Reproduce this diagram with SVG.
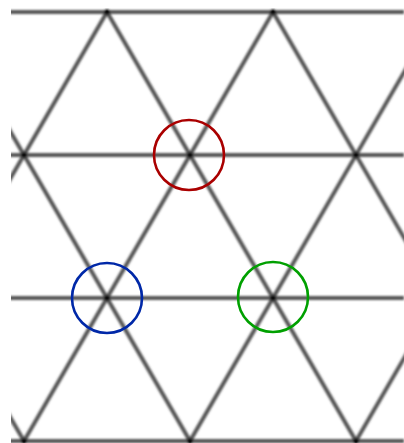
<svg xmlns="http://www.w3.org/2000/svg" width="404" height="443" viewBox="0 0 404 443">
  <defs>
    <clipPath id="clip"><rect x="11" y="8" width="393" height="435"/></clipPath>
    <filter id="soft" x="-10%" y="-10%" width="120%" height="120%"><feGaussianBlur stdDeviation="1"/></filter>
  </defs>
  <style>
    .lat { stroke: #555555; stroke-width: 4; fill: none; }
    .dot { fill: #000; }
    .ring { fill: none; stroke-width: 2.6; }
  </style>
  <rect width="404" height="443" fill="#fff"/>
  <g id="connectors" clip-path="url(#clip)" filter="url(#soft)">
    <g class="lat">
      <line x1="0" y1="12" x2="404" y2="12"/>
      <line x1="0" y1="155" x2="404" y2="155"/>
      <line x1="0" y1="298" x2="404" y2="298"/>
      <line x1="0" y1="441" x2="404" y2="441"/>
      <line x1="-225" y1="12" x2="24" y2="441"/>
      <line x1="-59" y1="12" x2="190" y2="441"/>
      <line x1="107" y1="12" x2="356" y2="441"/>
      <line x1="273" y1="12" x2="522" y2="441"/>
      <line x1="107" y1="12" x2="-142" y2="441"/>
      <line x1="273" y1="12" x2="24" y2="441"/>
      <line x1="439" y1="12" x2="190" y2="441"/>
      <line x1="605" y1="12" x2="356" y2="441"/>
    </g>
    <g class="dot">
      <circle cx="107" cy="12" r="2.8"/>
      <circle cx="273" cy="12" r="2.8"/>
      <circle cx="24" cy="155" r="2.8"/>
      <circle cx="190" cy="155" r="2.8"/>
      <circle cx="356" cy="155" r="2.8"/>
      <circle cx="107" cy="298" r="2.8"/>
      <circle cx="273" cy="298" r="2.8"/>
      <circle cx="24" cy="441" r="2.8"/>
      <circle cx="190" cy="441" r="2.8"/>
      <circle cx="356" cy="441" r="2.8"/>
    </g>
  </g>
  <g id="node-red"><circle class="ring" cx="189" cy="155" r="35" stroke="#aa0000"/></g>
  <g id="node-blue"><circle class="ring" cx="107" cy="298" r="35" stroke="#0028a8"/></g>
  <g id="node-green"><circle class="ring" cx="273" cy="297" r="35" stroke="#00a000"/></g>
</svg>
